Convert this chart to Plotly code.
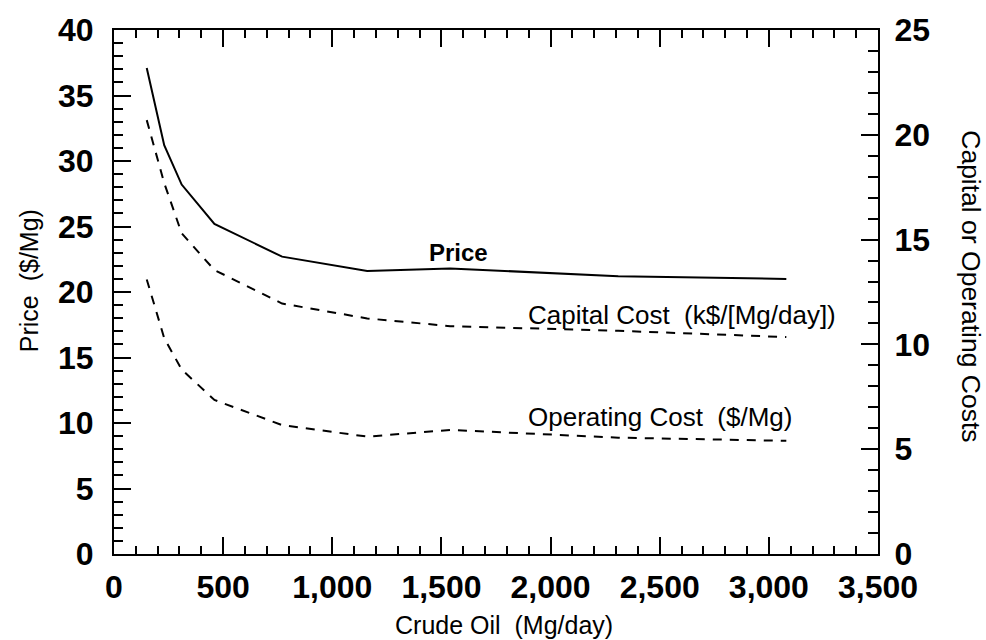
import plotly.graph_objects as go

crude_oil = [150, 230, 310, 460, 770, 1160, 1540, 2310, 3080]
price = [37.1, 31.2, 28.2, 25.2, 22.7, 21.6, 21.8, 21.2, 21.0]
capital_cost = [20.7, 17.7, 15.3, 13.55, 11.95, 11.24, 10.87, 10.65, 10.35]
operating_cost = [13.1, 10.3, 8.8, 7.35, 6.15, 5.6, 5.92, 5.55, 5.4]

x_ticks = [0, 500, 1000, 1500, 2000, 2500, 3000, 3500]
x_tick_labels = ["0", "500", "1,000", "1,500", "2,000", "2,500", "3,000", "3,500"]

FONT = "Liberation Sans, Arial, sans-serif"

fig = go.Figure()
fig.add_trace(go.Scatter(x=crude_oil, y=price, mode="lines",
                         line=dict(color="black", width=2), yaxis="y"))
fig.add_trace(go.Scatter(x=crude_oil, y=capital_cost, mode="lines",
                         line=dict(color="black", width=2, dash="9px,8px"), yaxis="y2"))
fig.add_trace(go.Scatter(x=crude_oil, y=operating_cost, mode="lines",
                         line=dict(color="black", width=2, dash="9px,8px"), yaxis="y2"))

tickfont = dict(family=FONT, size=32, color="black", weight="bold")

fig.update_layout(
    width=986, height=640,
    margin=dict(l=114, r=108, t=30, b=86),
    paper_bgcolor="white", plot_bgcolor="white",
    showlegend=False,
    xaxis=dict(range=[0, 3500], tickvals=x_ticks, ticktext=x_tick_labels,
               showline=True, linecolor="black", linewidth=2, mirror="ticks",
               ticks="inside", ticklen=17, tickwidth=2, tickcolor="black",
               minor=dict(dtick=100, ticks="inside", ticklen=8, tickwidth=2, tickcolor="black"),
               showgrid=False, zeroline=False, tickfont=tickfont, ticklabelstandoff=4),
    yaxis=dict(range=[0, 40], dtick=5,
               showline=True, linecolor="black", linewidth=2,
               ticks="inside", ticklen=17, tickwidth=2, tickcolor="black",
               minor=dict(dtick=1, ticks="inside", ticklen=9, tickwidth=2, tickcolor="black"),
               showgrid=False, zeroline=False, tickfont=tickfont, ticklabelstandoff=12),
    yaxis2=dict(range=[0, 25], dtick=5, overlaying="y", side="right",
                showline=True, linecolor="black", linewidth=2,
                ticks="inside", ticklen=17, tickwidth=2, tickcolor="black",
                minor=dict(dtick=1, ticks="inside", ticklen=10, tickwidth=2, tickcolor="black"),
                showgrid=False, zeroline=False, tickfont=tickfont, ticklabelstandoff=8),
)

lab = dict(family=FONT, size=26, color="black")
fig.add_annotation(x=1434, y=23.0, xref="x", yref="y", text="Price", showarrow=False,
                   xanchor="left", yanchor="middle",
                   font=dict(family=FONT, size=24, color="black", weight="bold"))
fig.add_annotation(x=1887, y=11.4, xref="x", yref="y2", text="Capital Cost  (k$/[Mg/day])",
                   showarrow=False, xanchor="left", yanchor="middle", font=lab)
fig.add_annotation(x=1887, y=6.54, xref="x", yref="y2", text="Operating Cost  ($/Mg)",
                   showarrow=False, xanchor="left", yanchor="middle", font=lab)

fig.add_annotation(x=-0.111, y=0.521, xref="paper", yref="paper", text="Price  ($/Mg)",
                   textangle=-90, showarrow=False, xanchor="center", yanchor="middle",
                   font=dict(family=FONT, size=25, color="black"))
fig.add_annotation(x=1.1217, y=0.511, xref="paper", yref="paper", text="Capital or Operating Costs",
                   textangle=90, showarrow=False, xanchor="center", yanchor="middle",
                   font=dict(family=FONT, size=26.5, color="black"))
fig.add_annotation(x=0.510, y=-0.1355, xref="paper", yref="paper", text="Crude Oil  (Mg/day)",
                   showarrow=False, xanchor="center", yanchor="middle",
                   font=dict(family=FONT, size=25, color="black"))

fig.write_html("out.html")
